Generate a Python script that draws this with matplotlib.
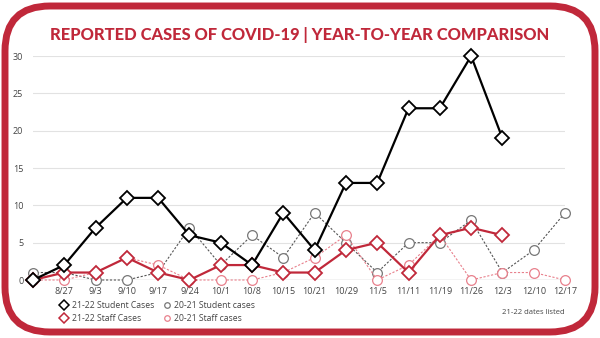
import matplotlib
matplotlib.use("Agg")
import matplotlib.pyplot as plt
from matplotlib.patches import FancyBboxPatch
from matplotlib.lines import Line2D

plt.rcParams['font.family'] = ['Open Sans', 'DejaVu Sans']

weeks = ["", "8/27", "9/3", "9/10", "9/17", "9/24", "10/1", "10/8", "10/15",
         "10/21", "10/29", "11/5", "11/11", "11/19", "11/26", "12/3", "12/10", "12/17"]
student_2122 = [0, 2, 7, 11, 11, 6, 5, 2, 9, 4, 13, 13, 23, 23, 30, 19]
staff_2122 = [0, 1, 1, 3, 1, 0, 2, 2, 1, 1, 4, 5, 1, 6, 7, 6]
student_2021 = [1, 1, 0, 0, 1, 7, 2, 6, 3, 9, 5, 1, 5, 5, 8, 1, 4, 9]
staff_2021 = [0, 0, 1, 3, 2, 0, 0, 0, 1, 3, 6, 0, 2, 6, 0, 1, 1, 0]

RED = "#c0283a"
PINK = "#e8808c"
GRAY = "#555555"

fig = plt.figure(figsize=(6, 3.38), dpi=100)
fig.patch.set_facecolor("white")

# rounded card border (display pixels)
border = FancyBboxPatch((5, 6), 590, 326, boxstyle="round,pad=0,rounding_size=45",
                        transform=None, facecolor="none", edgecolor=RED, linewidth=5)
fig.patches.append(border)

fig.text(0.5, 0.897, "REPORTED CASES OF COVID-19 | YEAR-TO-YEAR COMPARISON",
         ha="center", va="center", color=RED, fontsize=11.9, fontweight="black",
         family=["Lato", "DejaVu Sans"])

ax = fig.add_axes([33 / 600, 58 / 338, 532 / 600, 224 / 338])
ax.set_xlim(0, len(weeks) - 1)
ax.set_ylim(0, 30)
for s in ax.spines.values():
    s.set_visible(False)
ax.set_yticks([0, 5, 10, 15, 20, 25, 30])
ax.grid(axis="y", color="#e2e2e2", linewidth=0.8)
ax.axhline(0, color="#cccccc", linewidth=1.0, zorder=1)
ax.set_xticks(range(len(weeks)))
ax.set_xticklabels(weeks)
ax.tick_params(axis="both", length=0, labelsize=6.5, colors="#444444")
ax.tick_params(axis="y", pad=7)
ax.tick_params(axis="x", pad=5)
ax.set_axisbelow(True)

x_all = list(range(len(weeks)))

ax.plot(x_all[:len(student_2021)], student_2021, linestyle=(0, (2, 1.5)), color=GRAY,
        linewidth=0.8, marker="o", markersize=7, markerfacecolor="white",
        markeredgecolor="#777777", markeredgewidth=0.9, clip_on=False, zorder=3)
ax.plot(x_all[:len(staff_2021)], staff_2021, linestyle=(0, (2, 1.5)), color=PINK,
        linewidth=0.8, marker="o", markersize=7, markerfacecolor="white",
        markeredgecolor=PINK, markeredgewidth=0.9, clip_on=False, zorder=3)
ax.plot(x_all[:len(staff_2122)], staff_2122, color=RED, linewidth=1.6,
        marker="D", markersize=7, markerfacecolor="white", markeredgecolor=RED,
        markeredgewidth=1.3, clip_on=False, zorder=4)
ax.plot(x_all[:len(student_2122)], student_2122, color="black", linewidth=1.6,
        marker="D", markersize=7, markerfacecolor="white", markeredgecolor="black",
        markeredgewidth=1.3, clip_on=False, zorder=5)

handles = [
    Line2D([], [], linestyle="none", marker="D", markersize=5, markerfacecolor="white",
           markeredgecolor="black", markeredgewidth=1.1, label="21-22 Student Cases"),
    Line2D([], [], linestyle="none", marker="D", markersize=5, markerfacecolor="white",
           markeredgecolor=RED, markeredgewidth=1.1, label="21-22 Staff Cases"),
    Line2D([], [], linestyle="none", marker="o", markersize=4, markerfacecolor="white",
           markeredgecolor="#777777", markeredgewidth=0.9, label="20-21 Student cases"),
    Line2D([], [], linestyle="none", marker="o", markersize=4, markerfacecolor="white",
           markeredgecolor=PINK, markeredgewidth=0.9, label="20-21 Staff cases"),
]
fig.legend(handles=handles, ncol=2, loc="upper left", bbox_to_anchor=(61 / 600, 1 - 301 / 338),
           frameon=False, fontsize=6.2, handlelength=0.8, handletextpad=0.5,
           columnspacing=1.0, labelspacing=0.45, borderaxespad=0, borderpad=0,
           labelcolor="#444444")

fig.text(533 / 600, 1 - 313 / 338, "21-22 dates listed", ha="center", va="center",
         fontsize=5.5, color="#444444")

fig.savefig("out.png", dpi=100, facecolor="white")
